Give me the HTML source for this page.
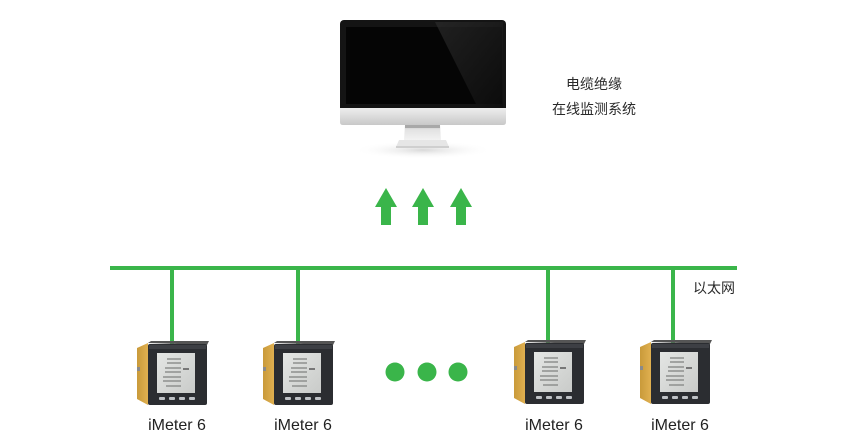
<!DOCTYPE html>
<html>
<head>
<meta charset="utf-8">
<style>
  html,body{margin:0;padding:0;background:#fff;}
  #wrap{position:relative;width:866px;height:441px;overflow:hidden;background:#fff;
    font-family:"Liberation Sans","Noto Sans CJK SC",sans-serif;}
  .t{position:absolute;color:#2a2a2a;white-space:nowrap;}
  .lbl{position:absolute;font-size:16px;color:#222;width:100px;text-align:center;top:416px;line-height:20px;}
</style>
</head>
<body>
<div id="wrap">
<svg width="866" height="441" viewBox="0 0 866 441" xmlns="http://www.w3.org/2000/svg" style="position:absolute;left:0;top:0">
  <defs>
    <linearGradient id="chin" x1="0" y1="0" x2="0" y2="1">
      <stop offset="0" stop-color="#eeeeee"/>
      <stop offset="1" stop-color="#c8c8c8"/>
    </linearGradient>
    <linearGradient id="neck" x1="0" y1="0" x2="0" y2="1">
      <stop offset="0" stop-color="#bdbdbd"/>
      <stop offset="0.3" stop-color="#e2e2e2"/>
      <stop offset="1" stop-color="#f2f2f2"/>
    </linearGradient>
    <linearGradient id="refl" x1="0" y1="0" x2="1" y2="1">
      <stop offset="0" stop-color="#2c2c2c"/>
      <stop offset="1" stop-color="#0e0e0e"/>
    </linearGradient>
    <radialGradient id="shadow" cx="0.5" cy="0.5" r="0.5">
      <stop offset="0" stop-color="#d8d8d8"/>
      <stop offset="1" stop-color="#ffffff" stop-opacity="0"/>
    </radialGradient>
    <linearGradient id="orange" x1="0" y1="0" x2="1" y2="0">
      <stop offset="0" stop-color="#c99a3a"/>
      <stop offset="1" stop-color="#e0b050"/>
    </linearGradient>
    <linearGradient id="lcd" x1="0" y1="0" x2="1" y2="1">
      <stop offset="0" stop-color="#e4e6e4"/>
      <stop offset="1" stop-color="#c9cbc9"/>
    </linearGradient>
    <g id="meter">
      <polygon points="0,7 11,2 11,64 0,58" fill="url(#orange)"/>
      <rect x="0" y="26" width="3" height="4" fill="#8a8a8a"/>
      <polygon points="11,2 14,0 72,0 70,4" fill="#555"/>
      <rect x="11" y="3" width="59" height="61" rx="2" fill="#2b2d31"/>
      <rect x="12" y="4" width="57" height="4" fill="#3d3f44"/>
      <rect x="20" y="12" width="38" height="40" fill="url(#lcd)"/>
      <g fill="none" stroke="#8e908e" stroke-width="1.4">
        <path d="M30 18 h14 M30 22 h14 M28 27 h16 M28 31 h16 M26 36 h18 M26 40 h18 M29 45 h15"/>
      </g>
      <rect x="46" y="27" width="6" height="2" fill="#777"/>
      <rect x="22" y="56" width="6" height="3" rx="1" fill="#bfc2c6"/>
      <rect x="32" y="56" width="6" height="3" rx="1" fill="#bfc2c6"/>
      <rect x="42" y="56" width="6" height="3" rx="1" fill="#bfc2c6"/>
      <rect x="52" y="56" width="6" height="3" rx="1" fill="#bfc2c6"/>
    </g>
  </defs>

  <!-- Monitor -->
  <ellipse cx="423" cy="150" rx="70" ry="9" fill="url(#shadow)"/>
  <rect x="340" y="20" width="166" height="92" rx="4" fill="#141414"/>
  <rect x="346" y="27" width="156" height="77" fill="#050505"/>
  <polygon points="435,22 503,22 503,108 478,108" fill="url(#refl)" opacity="0.7"/>
  <path d="M340 108 H506 V122 Q506 125 503 125 H343 Q340 125 340 122 Z" fill="url(#chin)"/>
  <polygon points="405,125 440,125 441,140 404,140" fill="url(#neck)"/>
  <rect x="405" y="125" width="35" height="3" fill="#a8a8a8"/>
  <path d="M399 140 H446 L449 147 H396 Z" fill="#e6e6e6"/>
  <rect x="396" y="146" width="53" height="2" fill="#cfcfcf"/>

  <!-- Up arrows -->
  <g fill="#3ab54a">
    <polygon points="386,188 397,207 391,207 391,225 381,225 381,207 375,207"/>
    <polygon points="423,188 434,207 428,207 428,225 418,225 418,207 412,207"/>
    <polygon points="461,188 472,207 466,207 466,225 456,225 456,207 450,207"/>
  </g>

  <!-- Bus -->
  <rect x="110" y="266" width="627" height="4" fill="#3ab54a"/>
  <rect x="170" y="268" width="4" height="76" fill="#3ab54a"/>
  <rect x="296" y="268" width="4" height="76" fill="#3ab54a"/>
  <rect x="546" y="268" width="4" height="76" fill="#3ab54a"/>
  <rect x="671" y="268" width="4" height="76" fill="#3ab54a"/>

  <!-- Meters -->
  <use href="#meter" x="137" y="341"/>
  <use href="#meter" x="263" y="341"/>
  <use href="#meter" x="514" y="340"/>
  <use href="#meter" x="640" y="340"/>

  <!-- Dots -->
  <g fill="#3ab54a">
    <circle cx="395" cy="372" r="9.5"/>
    <circle cx="427" cy="372" r="9.5"/>
    <circle cx="458" cy="372" r="9.5"/>
  </g>
</svg>

<div class="t" style="left:544px;top:72px;width:100px;text-align:center;font-size:14px;line-height:25px;">电缆绝缘<br>在线监测系统</div>
<div class="t" style="left:693px;top:279px;font-size:14px;line-height:18px;">以太网</div>

<div class="lbl" style="left:127px;">iMeter 6</div>
<div class="lbl" style="left:253px;">iMeter 6</div>
<div class="lbl" style="left:504px;">iMeter 6</div>
<div class="lbl" style="left:630px;">iMeter 6</div>
</div>
</body>
</html>
